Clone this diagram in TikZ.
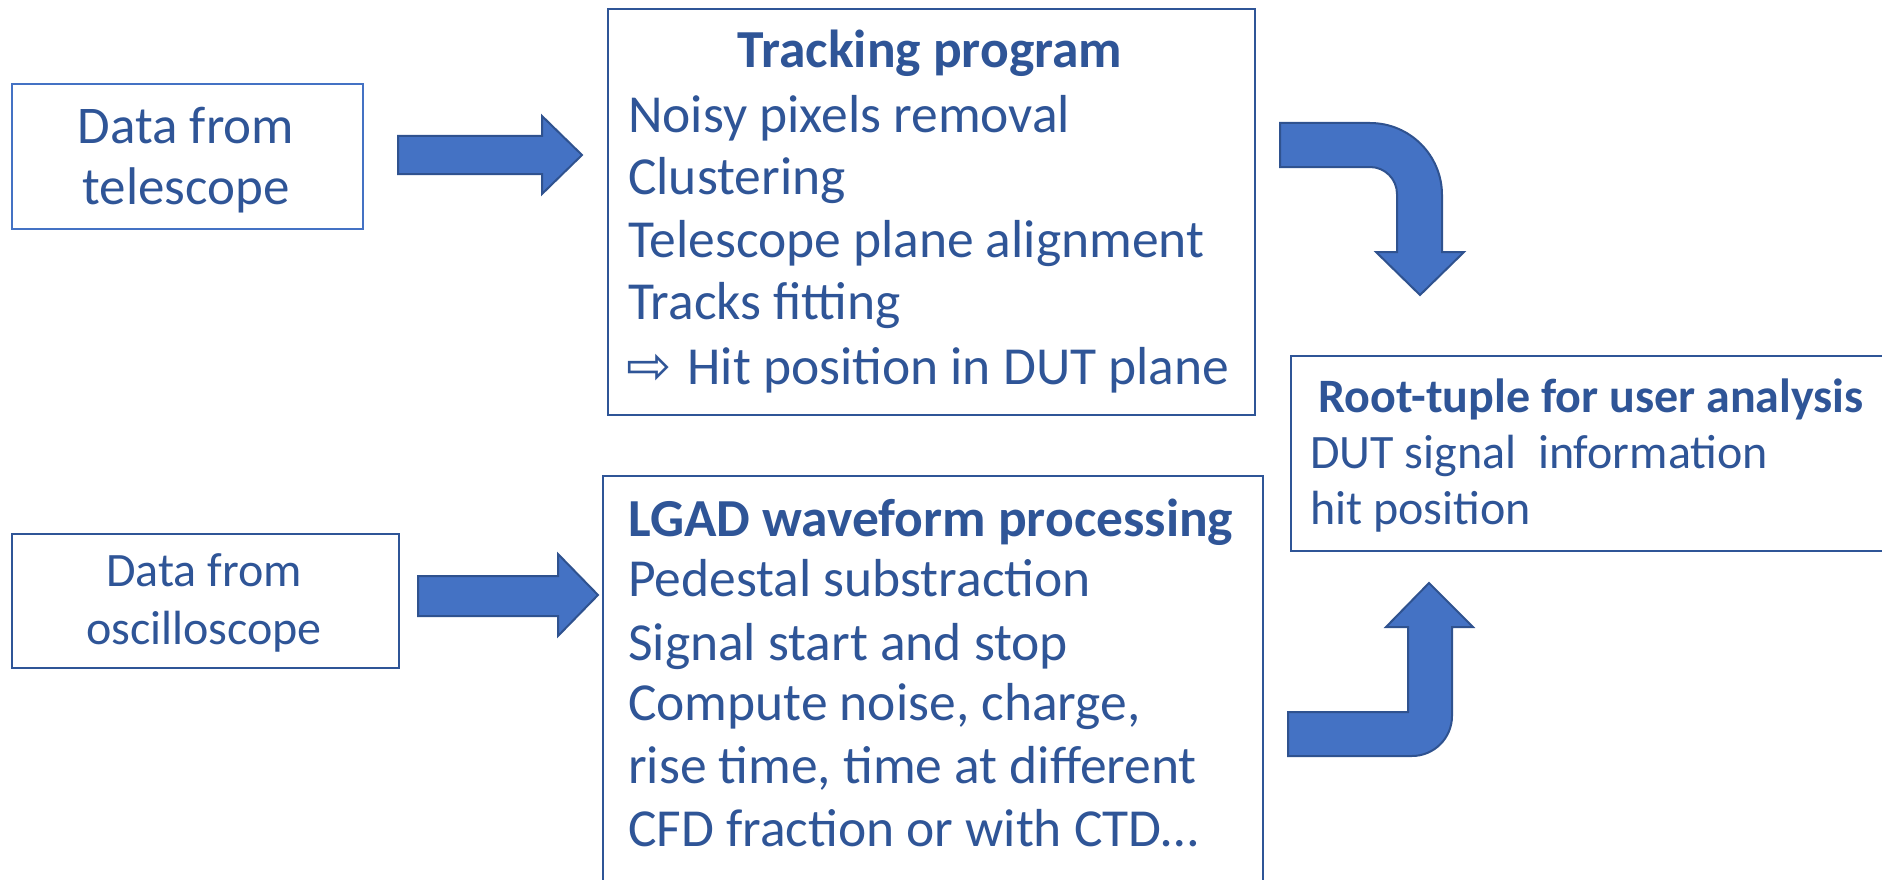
\documentclass[tikz,border=0pt]{standalone}
\usepackage{fontspec}
\setmainfont{Carlito}
\newfontfamily\symfont{DejaVu Sans}
\definecolor{txtblue}{HTML}{2F5597}
\definecolor{boxblue}{HTML}{2F5597}
\definecolor{lightbox}{HTML}{4472C4}
\definecolor{arrowfill}{HTML}{4472C4}
\definecolor{arrowline}{HTML}{2F528F}
\begin{document}
\begin{tikzpicture}[x=1pt,y=-1pt,
  box/.style={draw=boxblue,line width=2pt,inner sep=0pt,anchor=north west},
  txt/.style={text=txtblue,inner sep=0pt},
  big/.style={txt,font=\fontsize{53.5}{63}\selectfont},
  bigb/.style={txt,font=\fontsize{53.5}{63}\selectfont\bfseries},
  mid/.style={txt,font=\fontsize{48}{58}\selectfont},
  midb/.style={txt,font=\fontsize{48}{58}\selectfont\bfseries},
  tel/.style={txt,font=\fontsize{53}{62}\selectfont},
  small/.style={txt,font=\fontsize{48}{58}\selectfont},
  blockarrow/.style={fill=arrowfill,draw=arrowline,line width=2pt,line join=miter}]
\useasboundingbox (0,0) rectangle (1882,880);

% boxes
\node[box,draw=lightbox,minimum width=351pt,minimum height=145pt] (tel) at (11,83) {};
\node[box,minimum width=387pt,minimum height=134pt] (osc) at (11,533) {};
\node[box,minimum width=647pt,minimum height=406pt] (trk) at (607,8) {};
\node[box,minimum width=660pt,minimum height=460pt] (lgad) at (602,475) {};
\node[box,minimum width=620pt,minimum height=195pt] (root) at (1290,355) {};

% texts
\node[tel,anchor=base] (tel1) at (186,143) {Data from};
\node[tel,anchor=base] (tel2) at (186,204) {telescope};

\node[small,anchor=base] (osc1) at (204,586) {Data from};
\node[small,anchor=base] (osc2) at (204,644) {oscilloscope};

\node[bigb,anchor=base] (trk0) at (930,68) {Tracking program};
\node[big,anchor=base west] (trk1) at (628,132) {Noisy pixels removal};
\node[big,anchor=base west] (trk2) at (628,194) {Clustering};
\node[big,anchor=base west] (trk3) at (628,257) {Telescope plane alignment};
\node[big,anchor=base west] (trk4) at (628,319) {Tracks fitting};
\node[big,anchor=base west] (trk5) at (626,384) {{\symfont\fontsize{54}{54}\selectfont ⇨}\hspace{16pt}Hit position in DUT plane};

\node[bigb,anchor=base] (lg0) at (931,536) {LGAD waveform processing};
\node[big,anchor=base west] (lg1) at (628,596) {Pedestal substraction};
\node[big,anchor=base west] (lg2) at (628,660) {Signal start and stop};
\node[big,anchor=base west] (lg3) at (628,720) {Compute noise, charge,};
\node[big,anchor=base west] (lg4) at (628,783) {rise time, time at different};
\node[big,anchor=base west] (lg5) at (628,846) {CFD fraction or with CTD…};

\node[midb,anchor=base west] (rt0) at (1318,412) {Root-tuple for user analysis};
\node[mid,anchor=base west] (rt1) at (1310,468) {DUT signal\ \ information};
\node[mid,anchor=base west] (rt2) at (1310,524) {hit position};

% block arrows
\draw[blockarrow] (398,136) -- (542,136) -- (542,116) -- (582,155) -- (542,194) -- (542,174) -- (398,174) -- cycle;
\draw[blockarrow] (418,576) -- (558,576) -- (558,554) -- (598,595) -- (558,636) -- (558,616) -- (418,616) -- cycle;
\draw[blockarrow] (1280,123) -- (1370,123) arc[start angle=-90,end angle=0,radius=72] -- (1442,252) -- (1464,252) -- (1420,295) -- (1376,252) -- (1397,252) -- (1397,194) arc[start angle=0,end angle=-90,radius=27] -- (1280,167) -- cycle;
\draw[blockarrow] (1288,712) -- (1408,712) -- (1408,627) -- (1386,627) -- (1429,583) -- (1473,627) -- (1452,627) -- (1452,716) arc[start angle=0,end angle=90,radius=40] -- (1288,756) -- cycle;
\end{tikzpicture}
\end{document}
